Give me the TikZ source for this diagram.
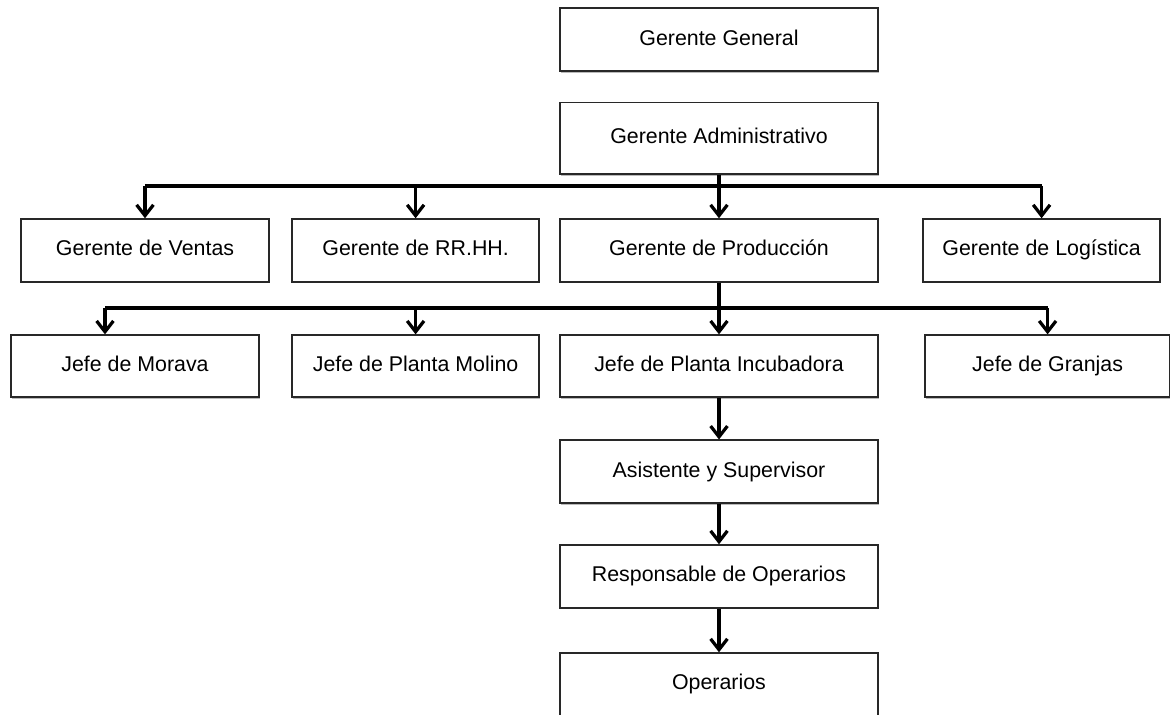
\documentclass[tikz,border=0pt]{standalone}
\usepackage{fontspec}
\setmainfont{Liberation Sans}
\usepackage{tikz}
\usetikzlibrary{arrows.meta, positioning, calc, shadows}
\definecolor{boxline}{RGB}{40, 40, 40}

\begin{document}
\begin{tikzpicture}[
    unit/.style={rectangle, draw=boxline, line width=0.9pt, fill=white, minimum height=1.575cm, inner sep=0pt, text height=11pt, text depth=3.2pt, font=\fontsize{15.2}{18}\selectfont, drop shadow={shadow xshift=0.9pt, shadow yshift=-1.1pt, fill=black!60, opacity=0.45}},
    wide/.style={unit, minimum width=7.95cm},
    narrow/.style={unit, minimum width=6.2cm},
    link/.style={line width=2.3pt, black},
    arrow/.style={link, -{Straight Barb[length=2.7mm, width=4.2mm, line width=2.3pt]}}
]
    \useasboundingbox (0, 0) rectangle (29.25, -17.875);

    % Top management
    \node[wide] (general) at (17.975, -0.99) {Gerente General};
    \node[wide, minimum height=1.78cm] (admin) at (17.975, -3.46) {Gerente Administrativo};

    % Managers
    \node[narrow] (ventas) at (3.625, -6.26) {Gerente de Ventas};
    \node[narrow, minimum width=6.175cm] (rrhh) at (10.39, -6.26) {Gerente de RR.HH.};
    \node[wide] (produccion) at (17.975, -6.26) {Gerente de Producción};
    \node[narrow, minimum width=5.925cm] (logistica) at (26.04, -6.26) {Gerente de Logística};

    % Plant heads
    \node[narrow, minimum height=1.55cm] (morava) at (3.375, -9.15) {Jefe de Morava};
    \node[narrow, minimum width=6.175cm, minimum height=1.55cm] (molino) at (10.39, -9.15) {Jefe de Planta Molino};
    \node[wide, minimum height=1.55cm] (incubadora) at (17.975, -9.15) {Jefe de Planta Incubadora};
    \node[narrow, minimum width=6.125cm, minimum height=1.55cm] (granjas) at (26.19, -9.15) {Jefe de Granjas};

    % Plant staff
    \node[wide] (asistente) at (17.975, -11.79) {Asistente y Supervisor};
    \node[wide] (responsable) at (17.975, -14.41) {Responsable de Operarios};
    \node[wide] (operarios) at (17.975, -17.11) {Operarios};

    % Branch lines
    \coordinate (bar1) at (0, -4.65);
    \coordinate (bar2) at (0, -7.7);
    \coordinate (moravatop) at ([xshift=-0.75cm]morava.north);

    % Administrative manager to managers
    \draw[link] (admin.south) -- (admin.south |- bar1);
    \draw[link] (bar1 -| ventas.north) -- (bar1 -| logistica.north);
    \draw[arrow] (bar1 -| ventas.north) -- (ventas.north);
    \draw[arrow] (bar1 -| rrhh.north) -- (rrhh.north);
    \draw[arrow] (bar1 -| produccion.north) -- (produccion.north);
    \draw[arrow] (bar1 -| logistica.north) -- (logistica.north);

    % Production manager to plant heads
    \draw[link] (produccion.south) -- (produccion.south |- bar2);
    \draw[link] (bar2 -| moravatop) -- (bar2 -| granjas.north);
    \draw[arrow] (bar2 -| moravatop) -- (moravatop);
    \draw[arrow] (bar2 -| molino.north) -- (molino.north);
    \draw[arrow] (bar2 -| incubadora.north) -- (incubadora.north);
    \draw[arrow] (bar2 -| granjas.north) -- (granjas.north);

    % Incubator chain
    \draw[arrow] (incubadora) -- (asistente);
    \draw[arrow] (asistente) -- (responsable);
    \draw[arrow] (responsable) -- (operarios);

\end{tikzpicture}
\end{document}
